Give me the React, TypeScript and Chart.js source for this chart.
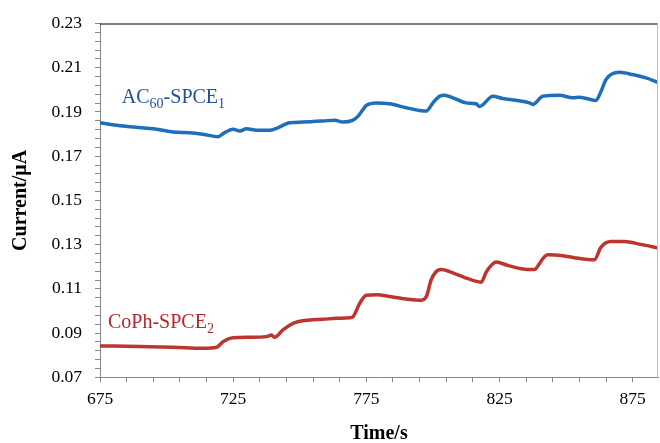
import React, { useEffect, useRef } from "react";
import { Chart, registerables } from "chart.js";

Chart.register(...registerables);

// ---- Data ----
const blueTime = [675.0, 683.7, 696.3, 702.5, 708.7, 713.7, 719.4, 721.2, 725.0, 727.5, 730.0, 733.8, 738.7, 741.3, 746.2, 751.2, 758.7, 763.1, 766.2, 770.0, 771.9, 773.5, 775.0, 778.8, 783.7, 790.0, 795.0, 797.5, 800.0, 802.5, 804.4, 807.5, 812.5, 816.2, 817.5, 822.5, 826.2, 831.2, 836.2, 837.5, 841.2, 847.5, 852.5, 855.0, 861.2, 863.0, 865.0, 870.0, 875.0, 880.0, 884.5];
const blueCurrent = [0.1851, 0.1836, 0.1822, 0.1809, 0.1806, 0.1799, 0.1788, 0.1802, 0.1822, 0.1814, 0.1824, 0.1817, 0.1817, 0.1826, 0.1851, 0.1854, 0.1859, 0.1863, 0.1854, 0.1863, 0.1881, 0.1907, 0.1930, 0.1941, 0.1937, 0.1919, 0.1907, 0.1904, 0.1941, 0.1971, 0.1976, 0.1964, 0.1941, 0.1937, 0.1925, 0.1971, 0.1961, 0.1953, 0.1941, 0.1934, 0.1971, 0.1976, 0.1964, 0.1967, 0.1952, 0.1990, 0.2047, 0.2079, 0.2069, 0.2054, 0.2034];

const redTime = [675.0, 690.0, 702.5, 713.7, 718.8, 721.2, 725.0, 731.2, 737.5, 739.4, 740.6, 743.7, 747.5, 753.7, 758.7, 763.7, 768.7, 770.0, 772.5, 775.0, 778.8, 784.4, 790.6, 795.6, 797.5, 799.3, 801.0, 803.1, 808.1, 811.9, 815.6, 818.1, 820.0, 821.8, 823.7, 828.1, 833.1, 838.1, 840.0, 841.5, 843.1, 848.1, 853.1, 858.1, 860.6, 863.1, 866.8, 871.8, 878.1, 884.5];
const redCurrent = [0.0842, 0.0839, 0.0836, 0.0831, 0.0836, 0.0861, 0.0879, 0.0881, 0.0884, 0.0891, 0.0881, 0.0914, 0.0944, 0.0959, 0.0962, 0.0967, 0.0969, 0.0974, 0.1034, 0.1071, 0.1073, 0.1064, 0.1053, 0.1049, 0.1064, 0.1139, 0.1175, 0.1187, 0.1169, 0.1151, 0.1136, 0.1130, 0.1176, 0.1205, 0.1221, 0.1206, 0.1191, 0.1187, 0.1214, 0.1240, 0.1254, 0.1251, 0.1241, 0.1233, 0.1232, 0.1289, 0.1314, 0.1314, 0.1301, 0.1285];

// Tick labels
const xTickValues = [675, 685, 695, 705, 715, 725, 735, 745, 755, 765, 775, 785, 795, 805, 815, 825, 835, 845, 855, 865, 875];
const xTickLabels = ["675", "725", "775", "825", "875"];
const yTickLabels = ["0.07", "0.09", "0.11", "0.13", "0.15", "0.17", "0.19", "0.21", "0.23"];

// Series names (with subscripts)
const blueName = [{ t: "AC", sub: false }, { t: "60", sub: true }, { t: "-SPCE", sub: false }, { t: "1", sub: true }];
const redName = [{ t: "CoPh-SPCE", sub: false }, { t: "2", sub: true }];

const SERIF = "'Liberation Serif', 'Times New Roman', serif";
const AXIS_GRAY = "#868686";

function drawRich(ctx: CanvasRenderingContext2D, x: number, y: number, parts: { t: string; sub: boolean }[], color: string) {
  ctx.save();
  ctx.fillStyle = color;
  ctx.textBaseline = "alphabetic";
  ctx.textAlign = "left";
  let cx = x;
  for (const p of parts) {
    ctx.font = p.sub ? `14px ${SERIF}` : `20px ${SERIF}`;
    ctx.fillText(p.t, cx, p.sub ? y + 5 : y);
    cx += ctx.measureText(p.t).width;
  }
  ctx.restore();
}

const decorPlugin = {
  id: "decor",
  afterDraw(chart: any) {
    const { ctx, chartArea, scales } = chart;
    ctx.save();
    // top frame line
    ctx.strokeStyle = "#000000";
    ctx.lineWidth = 1;
    ctx.beginPath();
    ctx.moveTo(chartArea.left, chartArea.top + 0.5);
    ctx.lineTo(chartArea.right, chartArea.top + 0.5);
    ctx.stroke();
    // right frame line
    ctx.strokeStyle = "#bfbfbf";
    ctx.beginPath();
    ctx.moveTo(chartArea.right - 0.5, chartArea.top);
    ctx.lineTo(chartArea.right - 0.5, chartArea.bottom);
    ctx.stroke();
    ctx.restore();
    const xs = scales.x;
    const ys = scales.y;
    drawRich(ctx, xs.getPixelForValue(683.2), ys.getPixelForValue(0.1941), blueName, "#1F4E9A");
    drawRich(ctx, xs.getPixelForValue(678.0), ys.getPixelForValue(0.0922), redName, "#B5272A");
  },
};

export default function App() {
  const ref = useRef<HTMLCanvasElement | null>(null);
  useEffect(() => {
    document.body.style.margin = "0";
    const canvas = ref.current!;
    const chart = new Chart(canvas, {
      type: "line",
      data: {
        datasets: [
          {
            label: "AC60-SPCE1",
            data: blueTime.map((t, i) => ({ x: t, y: blueCurrent[i] })),
            borderColor: "#1E6EBA",
            borderWidth: 3.5,
            pointRadius: 0,
            cubicInterpolationMode: "monotone",
            fill: false,
          },
          {
            label: "CoPh-SPCE2",
            data: redTime.map((t, i) => ({ x: t, y: redCurrent[i] })),
            borderColor: "#BC3530",
            borderWidth: 3.5,
            pointRadius: 0,
            cubicInterpolationMode: "monotone",
            fill: false,
          },
        ],
      },
      options: {
        responsive: false,
        animation: false,
        layout: { padding: { left: 0, top: 22, right: 2, bottom: 0 } },
        plugins: { legend: { display: false }, tooltip: { enabled: false } },
        scales: {
          x: {
            type: "linear",
            min: 675,
            max: 884.5,
            afterBuildTicks: (s: any) => {
              s.ticks = xTickValues.map((v) => ({ value: v }));
            },
            afterFit: (s: any) => {
              s.height = 65.7;
            },
            ticks: {
              autoSkip: false,
              maxRotation: 0,
              padding: 7,
              color: "#000000",
              font: { family: SERIF, size: 17.5 },
              callback: (v: any) => (xTickLabels.includes(String(v)) ? String(v) : ""),
            },
            grid: { drawOnChartArea: false, drawTicks: true, tickLength: 5, color: AXIS_GRAY },
            border: { color: AXIS_GRAY, width: 1 },
            title: {
              display: true,
              text: "Time/s",
              color: "#000000",
              font: { family: SERIF, size: 20, weight: "bold" },
              padding: { top: 0, bottom: -3 },
            },
          },
          y: {
            type: "linear",
            min: 0.07,
            max: 0.23,
            afterBuildTicks: (s: any) => {
              const out: any[] = [];
              for (let i = 0; i < yTickLabels.length; i++) {
                const v = parseFloat(yTickLabels[i]);
                out.push({ value: v, major: true });
                if (i < yTickLabels.length - 1) {
                  const nv = parseFloat(yTickLabels[i + 1]);
                  for (let k = 1; k < 5; k++) out.push({ value: v + ((nv - v) * k) / 5 });
                }
              }
              s.ticks = out;
            },
            afterFit: (s: any) => {
              s.width = 100;
            },
            ticks: {
              autoSkip: false,
              padding: 13,
              color: "#000000",
              font: { family: SERIF, size: 17.5 },
              callback: function (this: any, v: any, i: number, ticks: any[]) {
                return ticks[i] && ticks[i].major ? Number(v).toFixed(2) : "";
              },
            },
            grid: { drawOnChartArea: false, drawTicks: true, tickLength: 5, color: AXIS_GRAY },
            border: { color: AXIS_GRAY, width: 1 },
            title: {
              display: true,
              text: "Current/μA",
              color: "#000000",
              font: { family: SERIF, size: 20, weight: "bold" },
              padding: { top: 9, bottom: 0 },
            },
          },
        },
      },
      plugins: [decorPlugin],
    } as any);
    return () => chart.destroy();
  }, []);
  return (
    <div style={{ width: 660, height: 443, position: "relative", background: "#ffffff" }}>
      <canvas ref={ref} width={660} height={443} style={{ display: "block" }} />
    </div>
  );
}
